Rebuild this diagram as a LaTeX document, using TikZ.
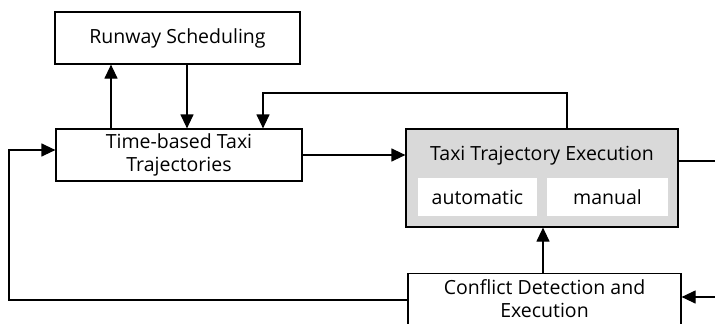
\documentclass[tikz,border=0pt]{standalone}
\usepackage{fontspec}
\setmainfont{Open Sans}
\usetikzlibrary{arrows.meta}
\begin{document}
\begin{tikzpicture}[x=1pt,y=-1pt,
  every node/.style={font=\fontsize{19.5}{23}\selectfont, align=center, inner sep=0pt},
  block/.style={draw, line width=1.2pt, fill=white},
  execbox/.style={draw, line width=1.2pt, fill=black!15},
  modebox/.style={fill=white},
  wire/.style={line width=1.2pt},
  arr/.style={wire, -{Triangle[length=14pt,width=13pt]}}]
\useasboundingbox (0,0) rectangle (715,324);

% main blocks
\node[block, minimum width=245pt, minimum height=52pt] (rs) at (177.5,38) {Runway Scheduling};
\node[block, minimum width=246pt, minimum height=52pt] (tb) at (179,155) {Time-based Taxi\\Trajectories};
\node[execbox, minimum width=272pt, minimum height=98pt] (tex) at (542,178) {};
\node (title) at (542,156) {Taxi Trajectory Execution};
\node[modebox, minimum width=119pt, minimum height=38pt] (auto) at (477.5,197) {automatic};
\node[modebox, minimum width=121pt, minimum height=38pt] (man) at (607.5,197) {manual};
\node[block, minimum width=273pt, minimum height=58pt, anchor=north] (cd) at (544.5,273) {};
\node (cdtext) at (544.5,299) {Conflict Detection and\\Execution};

% helper coordinates for connector routing
\coordinate (xup) at (111,0);
\coordinate (xdown) at (187,0);
\coordinate (xfb) at (263,93);
\coordinate (xret) at (567,93);
\coordinate (xleft) at (9,300);
\coordinate (xcd) at (543,0);
\coordinate (outR) at (715,161);
\coordinate (inR) at (715,297);

% connectors
\draw[arr] (tb.north -| xup) -- (rs.south -| xup);
\draw[arr] (rs.south -| xdown) -- (tb.north -| xdown);
\draw[arr] (tex.north -| xret) -- (xret) -- (xfb) -- (tb.north -| xfb);
\draw[arr] (tb.east) -- (tb.east -| tex.west);
\draw[wire] (tex.east |- outR) -- (outR);
\draw[arr] (cd.north -| xcd) -- (tex.south -| xcd);
\draw[arr] (inR) -- (inR -| cd.east);
\draw[arr] (cd.west |- xleft) -- (xleft) -- ([yshift=5pt]tb.west -| xleft) -- ([yshift=5pt]tb.west);
\end{tikzpicture}
\end{document}
